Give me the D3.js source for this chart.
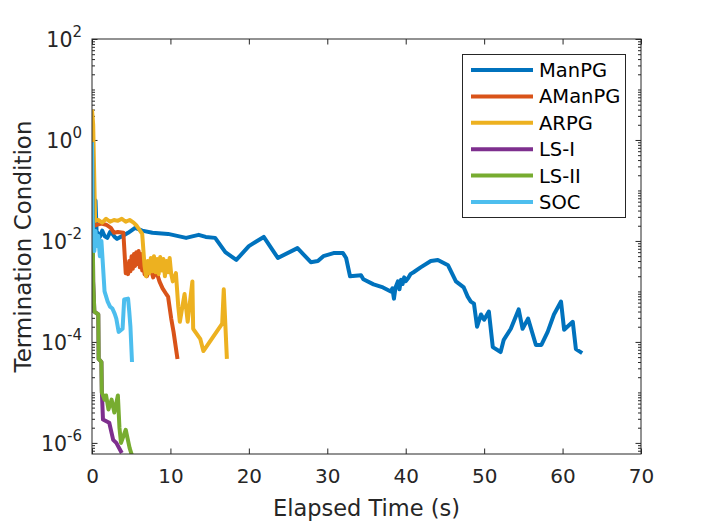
<!DOCTYPE html>
<html>
<head>
<meta charset="utf-8">
<script src="https://cdn.jsdelivr.net/npm/d3@7"></script>
<style>
  body { margin: 0; background: #fff; }
  svg { display: block; font-family: "DejaVu Sans", sans-serif; }
</style>
</head>
<body>
<svg id="chart" width="708" height="521"></svg>
<script>
// values
const seriesNames = ["ManPG", "AManPG", "ARPG", "LS-I", "LS-II", "SOC"];

const manpgTime = [0, 0.2, 0.45, 0.6, 0.7, 1.0, 1.3, 1.6, 1.95, 2.3, 2.6, 2.9, 3.2, 3.9, 4.6, 5.5, 6.4, 7.7, 9.7, 12, 13.6, 14.5, 15.7, 17.0,
  18.4, 20, 21.9, 23.7, 26.2, 27.9, 28.8, 29.5, 30.8, 32, 32.4, 32.9, 34.3, 34.6, 35.9, 37.1, 38.1, 38.3, 38.5, 38.7, 39, 39.2, 39.4, 39.6,
  39.8, 40.0, 40.3, 40.6, 41.0, 41.9, 43.2, 44.1, 45.4, 46.4, 47.4, 47.9, 48.3, 48.7, 49.1, 49.6, 50, 50.6, 51.1, 52.1, 52.5, 53.4, 54.4,
  54.9, 55.6, 56.6, 57.3, 58.1, 58.9, 59.8, 60.2, 61.3, 61.7, 62.5];
const manpgVal = [3, 1.6e-2, 6.3e-2, 1.26e-2, 1.45e-2, 1.2e-2, 1.6e-2, 1.25e-2, 1.15e-2, 1.5e-2, 1.38e-2, 1.2e-2, 1.1e-2, 1.26e-2, 1.45e-2, 1.82e-2, 1.6e-2, 1.45e-2, 1.38e-2, 1.15e-2, 1.32e-2, 1.2e-2, 1.15e-2, 6.0e-3,
  4.2e-3, 7.9e-3, 1.2e-2, 4.6e-3, 7.2e-3, 3.8e-3, 4.0e-3, 5.0e-3, 5.75e-3, 5.75e-3, 4.6e-3, 2.0e-3, 2.1e-3, 1.74e-3, 1.38e-3, 1.2e-3, 1.0e-3, 1.15e-3, 7.2e-4, 1.2e-3, 1.58e-3, 1.1e-3, 1.7e-3, 1.4e-3,
  1.9e-3, 1.6e-3, 1.82e-3, 2.2e-3, 2.4e-3, 3.0e-3, 4.0e-3, 4.2e-3, 3.3e-3, 1.58e-3, 1.2e-3, 7.9e-4, 6.3e-4, 5.75e-4, 2.0e-4, 3.5e-4, 2.75e-4, 4.0e-4, 7.9e-5, 6.3e-5, 1.1e-4, 1.82e-4, 4.4e-4,
  1.82e-4, 2.9e-4, 8.7e-5, 8.7e-5, 1.58e-4, 3.5e-4, 6.3e-4, 1.74e-4, 2.5e-4, 7.2e-5, 6.0e-5];

const amanpgTime = [0, 0.25, 0.7, 1.2, 1.8, 2.4, 2.8, 3.3, 4.0, 4.3, 4.45, 4.6, 4.75, 4.9, 5.05, 5.2, 5.35, 5.5, 5.65, 5.8,
  5.95, 6.1, 6.25, 6.4, 6.55, 6.7, 7.0, 7.4, 7.8, 8.2, 8.6, 9.0, 9.5, 9.7, 10.1, 10.4, 10.9];
const amanpgVal = [3, 2.0e-2, 2.1e-2, 2.2e-2, 2.1e-2, 1.82e-2, 1.45e-2, 1.5e-2, 1.45e-2, 2.3e-3, 3.2e-3, 2.2e-3, 4.0e-3, 2.5e-3, 5.0e-3, 2.8e-3, 5.5e-3, 3.2e-3, 6.0e-3, 3.5e-3,
  6.3e-3, 3.0e-3, 5.5e-3, 2.6e-3, 4.5e-3, 2.2e-3, 2.0e-3, 3.2e-3, 1.9e-3, 2.5e-3, 1.58e-3, 1.15e-3, 8.7e-4, 7.9e-4, 2.9e-4, 1.58e-4, 4.6e-5];

const arpgTime = [0, 0.15, 0.4, 0.8, 1.3, 1.8, 2.3, 2.8, 3.3, 3.8, 4.3, 4.8, 5.3, 5.7, 6.4, 6.7, 6.9, 7.1, 7.3, 7.5,
  7.7, 7.9, 8.1, 8.3, 8.5, 8.7, 8.9, 9.1, 9.3, 9.5, 9.7, 9.9, 10.1, 10.3, 10.7, 11.0, 11.2, 11.8, 12.2, 12.8,
  12.9, 13.8, 14.2, 16.6, 16.8, 17.2];
const arpgVal = [4.0, 2.0, 2.5e-2, 2.6e-2, 2.3e-2, 2.75e-2, 2.4e-2, 2.6e-2, 2.5e-2, 2.75e-2, 2.4e-2, 2.6e-2, 2.3e-2, 2.0e-2, 1.38e-2, 3.2e-3, 2.0e-3, 4.0e-3, 2.3e-3, 4.6e-3,
  2.5e-3, 5.0e-3, 2.4e-3, 4.4e-3, 2.2e-3, 4.8e-3, 2.6e-3, 4.4e-3, 2.0e-3, 4.0e-3, 2.4e-3, 4.6e-3, 2.2e-3, 1.58e-3, 2.3e-3, 5.0e-4, 2.5e-4, 8.9e-4, 2.5e-4, 1.58e-3,
  1.82e-4, 1.15e-4, 6.6e-5, 2.3e-4, 1.1e-3, 4.6e-5];

const ls1Time = [0, 0.15, 0.3, 0.8, 0.85, 1.2, 1.25, 1.4, 2.2, 2.7, 3.1, 3.8];
const ls1Val = [0.9, 1.58e-3, 4.0e-4, 3.5e-4, 4.6e-5, 4.0e-5, 1.1e-5, 2.9e-6, 2.5e-6, 1.15e-6, 1.0e-6, 6.3e-7];

const ls2Time = [0, 0.15, 0.3, 0.8, 0.85, 1.2, 1.25, 1.6, 1.8, 2.1, 2.5, 2.85, 3.3, 3.5, 3.7, 4.3, 4.8, 5.4];
const ls2Val = [0.9, 1.58e-3, 4.0e-4, 3.5e-4, 4.6e-5, 4.0e-5, 1.0e-5, 7.2e-6, 8.7e-6, 4.6e-6, 7.2e-6, 4.0e-6, 8.7e-6, 2.0e-6, 1.0e-6, 1.82e-6, 7.9e-7, 4.0e-7];

const socTime = [0, 0.05, 0.15, 0.3, 0.45, 0.6, 0.8, 1.0, 1.2, 1.4, 1.6, 2.0, 2.3, 2.6, 2.9, 3.1, 3.4, 3.9, 4.1, 4.6, 4.75, 4.9, 5.1];
const socVal = [0.9, 3.2e-2, 1.26e-2, 6.3e-3, 1.58e-2, 7.9e-3, 1.26e-2, 5.0e-3, 1.0e-2, 3.2e-3, 1.0e-3, 6.3e-4, 5.0e-4, 4.6e-4, 3.6e-4, 2.9e-4, 1.58e-4, 1.82e-4, 6.9e-4, 7.2e-4, 4.0e-4, 2.0e-4, 4.0e-5];

const xTicks = [0, 10, 20, 30, 40, 50, 60, 70];
const yLabelExps = [-6, -4, -2, 0, 2];

const colors = ["#0072BD", "#D95319", "#EDB120", "#7E2F8E", "#77AC30", "#4DBEEE"];
const axisColor = "#262626";

const series = [
  { time: manpgTime, val: manpgVal },
  { time: amanpgTime, val: amanpgVal },
  { time: arpgTime, val: arpgVal },
  { time: ls1Time, val: ls1Val },
  { time: ls2Time, val: ls2Val },
  { time: socTime, val: socVal }
].map((s, i) => ({ name: seriesNames[i], color: colors[i], points: s.time.map((t, j) => [t, s.val[j]]) }));

const plot = { left: 92, right: 641, top: 39, bottom: 454 };
const svg = d3.select("#chart");

const x = d3.scaleLinear().domain([0, 70]).range([plot.left, plot.right]);
const y = d3.scaleLog().domain([Math.pow(10, -6.22), 100]).range([plot.bottom, plot.top]);

// ticks
const decades = d3.range(-6, 3).map(e => Math.pow(10, e));
const minors = [];
for (let e = -7; e < 2; e++) {
  for (let k = 2; k <= 9; k++) {
    const v = k * Math.pow(10, e);
    if (v >= y.domain()[0] && v <= 100) minors.push(v);
  }
}
const majorY = yLabelExps.map(e => Math.pow(10, e));
const minorY = decades.filter(v => !majorY.includes(v)).concat(minors);

function styleAxis(g) {
  g.select(".domain").remove();
  g.selectAll(".tick line").attr("stroke", axisColor).attr("stroke-width", 1);
}

svg.append("g")
  .attr("transform", `translate(0,${plot.bottom})`)
  .call(d3.axisBottom(x).tickValues(xTicks).tickSizeInner(-5.5).tickSizeOuter(0).tickPadding(15))
  .call(styleAxis)
  .call(g => g.selectAll(".tick text")
    .attr("fill", axisColor).attr("font-size", 20).attr("font-family", "DejaVu Sans"));

svg.append("g")
  .attr("transform", `translate(0,${plot.top})`)
  .call(d3.axisTop(x).tickValues(xTicks).tickSizeInner(-5.5).tickSizeOuter(0).tickFormat(""))
  .call(styleAxis);

[[d3.axisLeft, plot.left], [d3.axisRight, plot.right]].forEach(([axisFn, pos]) => {
  svg.append("g")
    .attr("transform", `translate(${pos},0)`)
    .call(axisFn(y).tickValues(majorY).tickSizeInner(-5.5).tickSizeOuter(0).tickFormat(""))
    .call(styleAxis);
  svg.append("g")
    .attr("transform", `translate(${pos},0)`)
    .call(axisFn(y).tickValues(minorY).tickSizeInner(-3).tickSizeOuter(0).tickFormat(""))
    .call(styleAxis);
});

// y tick labels 10^e
const yLab = svg.append("g").attr("fill", axisColor).attr("font-size", 20.5);
yLabelExps.forEach(e => {
  const t = yLab.append("text")
    .attr("x", plot.left - 10)
    .attr("y", y(Math.pow(10, e)) + 8)
    .attr("text-anchor", "end");
  t.append("tspan").text("10");
  t.append("tspan").attr("font-size", 15).attr("dy", -10).text(String(e));
});

// lines
svg.append("clipPath").attr("id", "clip")
  .append("rect")
  .attr("x", plot.left).attr("y", plot.top)
  .attr("width", plot.right - plot.left).attr("height", plot.bottom - plot.top);

const line = d3.line().x(d => x(d[0])).y(d => y(d[1]));

svg.append("g").attr("clip-path", "url(#clip)")
  .selectAll("path")
  .data(series)
  .join("path")
  .attr("d", d => line(d.points))
  .attr("fill", "none")
  .attr("stroke", d => d.color)
  .attr("stroke-width", 4)
  .attr("stroke-linejoin", "round");

// box
svg.append("rect")
  .attr("x", plot.left).attr("y", plot.top)
  .attr("width", plot.right - plot.left).attr("height", plot.bottom - plot.top)
  .attr("fill", "none").attr("stroke", axisColor).attr("stroke-width", 1);

// axis labels
svg.append("text")
  .attr("x", (plot.left + plot.right) / 2).attr("y", 516)
  .attr("text-anchor", "middle").attr("fill", axisColor).attr("font-size", 22.5)
  .text("Elapsed Time (s)");

svg.append("text")
  .attr("transform", `translate(31,${(plot.top + plot.bottom) / 2}) rotate(-90)`)
  .attr("text-anchor", "middle").attr("fill", axisColor).attr("font-size", 23)
  .text("Termination Condition");

// legend
const legend = svg.append("g");
legend.append("rect")
  .attr("x", 462.5).attr("y", 54.5).attr("width", 163).attr("height", 163)
  .attr("fill", "#fff").attr("stroke", axisColor).attr("stroke-width", 1);

const rows = legend.selectAll("g.row")
  .data(series)
  .join("g")
  .attr("class", "row")
  .attr("transform", (d, i) => `translate(0,${70 + i * 26.4})`);

rows.append("line")
  .attr("x1", 471).attr("x2", 533)
  .attr("stroke", d => d.color).attr("stroke-width", 4);

rows.append("text")
  .attr("x", 539).attr("dy", "0.36em")
  .attr("font-size", 19.5).attr("fill", "#000")
  .text(d => d.name);
</script>
</body>
</html>
